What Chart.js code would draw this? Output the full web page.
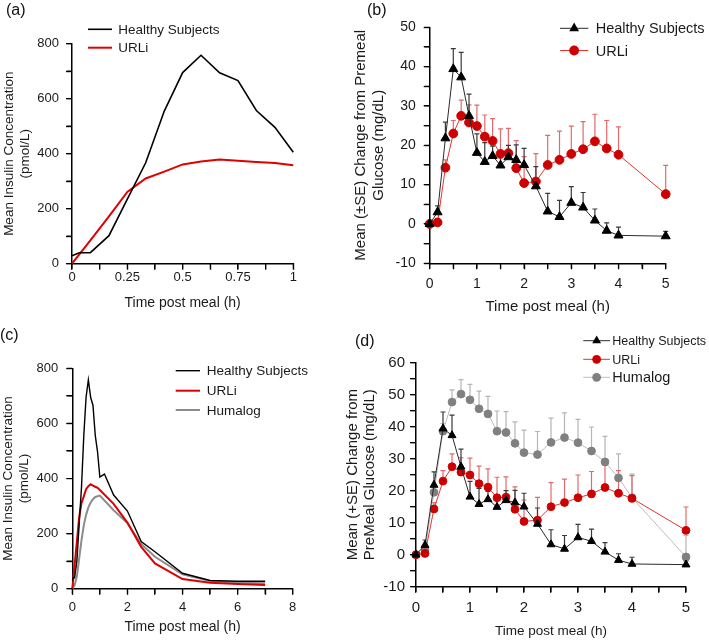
<!DOCTYPE html>
<html>
<head>
<meta charset="utf-8">
<script src="https://cdn.jsdelivr.net/npm/chart.js@4.4.0/dist/chart.umd.min.js"></script>
<style>
  body { margin: 0; background: #fff; }
  #wrap { position: relative; width: 709px; height: 641px; overflow: hidden; font-family: "Liberation Sans", Arial, sans-serif; }
  canvas { position: absolute; }
  .tag { position: absolute; font-size: 16px; line-height: 16px; color: #111; }
</style>
</head>
<body>
<div id="wrap">
  <canvas id="chartA" width="350" height="320" style="left:0;top:0"></canvas>
  <canvas id="chartB" width="364" height="320" style="left:345px;top:0"></canvas>
  <canvas id="chartC" width="350" height="321" style="left:0;top:320px"></canvas>
  <canvas id="chartD" width="369" height="321" style="left:340px;top:320px"></canvas>
  <div class="tag" style="left:6px;top:2px">(a)</div>
  <div class="tag" style="left:367px;top:2px">(b)</div>
  <div class="tag" style="left:0;top:327px">(c)</div>
  <div class="tag" style="left:355px;top:333px">(d)</div>
</div>
<script>
var FONT = '"Liberation Sans", Arial, sans-serif';

// (a) insulin, first hour
var tHealthyA = [0, 0.033, 0.083, 0.167, 0.25, 0.333, 0.417, 0.5, 0.583, 0.667, 0.75, 0.833, 0.917, 1];
var insHealthyA = [29, 40, 40, 102, 235, 367, 555, 695, 758, 694, 666, 557, 496, 405];
var tUrliA = [0, 0.083, 0.167, 0.25, 0.333, 0.417, 0.5, 0.583, 0.667, 0.75, 0.833, 0.917, 1];
var insUrliA = [0, 85, 172, 261, 310, 335, 361, 372, 379, 374, 370, 366, 358];

// (c) insulin, 0-7 h
var tHealthyC = [0, 0.033, 0.083, 0.167, 0.25, 0.333, 0.417, 0.5, 0.583, 0.667, 0.75, 0.833, 0.917, 1, 1.167, 1.5, 2, 2.5, 3, 4, 5, 6, 7];
var insHealthyC = [29, 40, 40, 102, 235, 367, 555, 695, 758, 694, 666, 557, 496, 405, 416, 340, 282, 171, 134, 56, 30, 27, 27];
var tUrliC = [0, 0.083, 0.167, 0.25, 0.333, 0.417, 0.5, 0.583, 0.667, 0.75, 0.833, 0.917, 1, 1.5, 2, 2.5, 3, 4, 5, 6, 7];
var insUrliC = [0, 85, 172, 261, 310, 335, 361, 372, 379, 374, 370, 366, 358, 308, 240, 152, 92, 35, 22, 17, 13];
var tHumalogC = [0, 0.083, 0.167, 0.25, 0.333, 0.417, 0.5, 0.583, 0.667, 0.75, 0.833, 1, 1.5, 2, 2.5, 3, 4, 5, 6, 7];
var insHumalogC = [0, 12, 45, 110, 175, 230, 268, 295, 313, 325, 333, 338, 285, 238, 162, 116, 52, 28, 22, 20];

// (b) and (d) glucose change, mean and SE
var tGlu = [0, 0.167, 0.333, 0.5, 0.667, 0.833, 1, 1.167, 1.333, 1.5, 1.667, 1.833, 2, 2.25, 2.5, 2.75, 3, 3.25, 3.5, 3.75, 4, 5];
var gluHealthy = [0, 3, 21.8, 39.4, 37.3, 27.5, 18.1, 15.8, 17.3, 14.9, 17.0, 16.3, 15.0, 9.6, 3.2, 1.8, 5.4, 4.2, 0.9, -1.7, -2.9, -3.1];
var seHealthy = [0, 1.6, 4.1, 5.2, 6.3, 5.5, 4.8, 4.9, 2.5, 3.1, 3.0, 3.8, 4.2, 5.0, 4.6, 4.2, 4.1, 3.8, 2.9, 2.0, 2.1, 1.2];
var gluUrli = [0, 0.4, 14.3, 23.0, 27.5, 25.8, 24.9, 22.2, 21.1, 17.8, 18.0, 14.2, 10.4, 10.8, 15.0, 16.3, 17.8, 19.0, 21.0, 19.2, 17.6, 7.6];
var seUrli = [0, 0, 2.0, 3.3, 4.0, 4.5, 5.3, 5.5, 5.7, 6.4, 6.3, 7.0, 6.7, 7.1, 7.5, 7.3, 7.1, 7.0, 6.9, 7.1, 7.1, 7.3];
var gluHumalog = [0, 1.5, 19.5, 38.6, 47.7, 50.2, 48.4, 45.6, 44.0, 38.6, 38.2, 34.8, 31.9, 31.3, 35.1, 36.6, 35.0, 32.4, 29.0, 24.0, 17.8, -0.7];
var seHumalog = [0, 0, 1.5, 2.4, 3.8, 4.5, 4.8, 5.5, 5.5, 6.3, 6.5, 6.7, 7.0, 7.2, 7.6, 7.7, 7.3, 7.5, 8.0, 7.5, 7.4, 6.7];

// tick labels
var xLabelsA = [0, 0.25, 0.5, 0.75, 1];
var yLabelsIns = [0, 200, 400, 600, 800];
var xLabelsC = [0, 2, 4, 6, 8];
var xLabelsGlu = [0, 1, 2, 3, 4, 5];
var yLabelsB = [-10, 0, 10, 20, 30, 40, 50];
var yLabelsD = [-10, 0, 10, 20, 30, 40, 50, 60];

function pts(xs, ys) {
  return xs.map(function(x, i) { return {x: x, y: ys[i]}; });
}

function drawMarker(ctx, style, x, y, r, color) {
  ctx.fillStyle = color;
  ctx.beginPath();
  if (style === 'triangle') {
    ctx.moveTo(x, y - r);
    ctx.lineTo(x + r * 0.866, y + r * 0.5);
    ctx.lineTo(x - r * 0.866, y + r * 0.5);
    ctx.closePath();
  } else {
    ctx.arc(x, y, r, 0, Math.PI * 2);
  }
  ctx.fill();
}

// legend drawn inside the plot like the original figure
var insetLegend = {
  id: 'insetLegend',
  afterDraw: function(chart, args, o) {
    if (!o || !o.rows) return;
    var ctx = chart.ctx;
    chart.data.datasets.forEach(function(ds, i) {
      var y = o.rows[i];
      ctx.save();
      ctx.strokeStyle = ds.borderColor;
      ctx.lineWidth = ds.borderWidth;
      ctx.beginPath();
      ctx.moveTo(o.x0, y);
      ctx.lineTo(o.x1, y);
      ctx.stroke();
      if (ds.pointRadius) drawMarker(ctx, ds.pointStyle, (o.x0 + o.x1) / 2, y, ds.pointRadius + 0.5, ds.pointBackgroundColor);
      ctx.fillStyle = '#1a1a1a';
      ctx.font = (o.sizes ? o.sizes[i] : o.size) + 'px ' + FONT;
      ctx.textBaseline = 'middle';
      ctx.fillText(ds.label, o.tx, y + 1);
      ctx.restore();
    });
  }
};

// outward tick marks at every scale tick
var tickMarks = {
  id: 'tickMarks',
  afterDraw: function(chart) {
    var ctx = chart.ctx, a = chart.chartArea, xs = chart.scales.x, ys = chart.scales.y;
    ctx.save();
    ctx.strokeStyle = '#000';
    ctx.lineWidth = 1.2;
    ctx.beginPath();
    xs.ticks.forEach(function(t) {
      var px = xs.getPixelForValue(t.value);
      ctx.moveTo(px, a.bottom);
      ctx.lineTo(px, a.bottom + 5.5);
    });
    ys.ticks.forEach(function(t) {
      var py = ys.getPixelForValue(t.value);
      ctx.moveTo(a.left, py);
      ctx.lineTo(a.left - 5.5, py);
    });
    ctx.stroke();
    ctx.restore();
  }
};

// upper SE bars
var errorBars = {
  id: 'errorBars',
  beforeDatasetsDraw: function(chart) {
    var ctx = chart.ctx, xs = chart.scales.x, ys = chart.scales.y;
    for (var i = chart.data.datasets.length - 1; i >= 0; i--) {
      var ds = chart.data.datasets[i];
      if (!ds.se) continue;
      ctx.save();
      ctx.strokeStyle = ds.errColor;
      ctx.lineWidth = 1.2;
      ds.data.forEach(function(p, j) {
        var e = ds.se[j];
        if (!e) return;
        var px = xs.getPixelForValue(p.x);
        var py = ys.getPixelForValue(p.y);
        var pt = ys.getPixelForValue(p.y + e);
        ctx.beginPath();
        ctx.moveTo(px, py);
        ctx.lineTo(px, pt);
        ctx.moveTo(px - 2.5, pt);
        ctx.lineTo(px + 2.5, pt);
        ctx.stroke();
      });
      ctx.restore();
    }
  }
};

function axis(o) {
  return {
    type: 'linear',
    min: o.min,
    max: o.max,
    ticks: {
      stepSize: o.step,
      autoSkip: false,
      maxRotation: 0,
      maxTicksLimit: 100,
      padding: o.pad,
      color: '#1a1a1a',
      font: {family: FONT, size: o.tickSize},
      callback: function(v) {
        for (var k = 0; k < o.labels.length; k++) {
          if (Math.abs(o.labels[k] - v) < 1e-6) return String(o.labels[k]);
        }
        return '';
      }
    },
    grid: {display: true, drawOnChartArea: false, drawTicks: true, color: '#000', tickColor: '#000',
      tickLength: 6, lineWidth: 1.2, tickWidth: 1.2},
    border: {display: true, color: '#000', width: 1.5},
    title: {
      display: true,
      text: o.title,
      color: '#1a1a1a',
      font: {family: FONT, size: o.titleSize, lineHeight: o.lh || 1.2},
      padding: o.titlePad
    },
    afterFit: o.fit
  };
}

function makeChart(id, datasets, sc, pad, legend) {
  return new Chart(document.getElementById(id), {
    type: 'line',
    data: {datasets: datasets},
    options: {
      responsive: false,
      animation: false,
      layout: {padding: pad},
      plugins: {legend: {display: false}, tooltip: {enabled: false}, insetLegend: legend},
      scales: sc
    },
    plugins: [errorBars, tickMarks, insetLegend]
  });
}

function lineSet(label, xs, ys, color, width) {
  return {label: label, data: pts(xs, ys), borderColor: color, borderWidth: width,
    pointRadius: 0, tension: 0, fill: false, clip: false};
}

function markSet(label, ys, se, line, fillColor, style, r, errColor) {
  return {label: label, data: pts(tGlu, ys), se: se, errColor: errColor,
    borderColor: line, borderWidth: 1, tension: 0, fill: false, clip: false,
    pointStyle: style, pointRadius: r, pointBackgroundColor: fillColor,
    pointBorderColor: fillColor, pointBorderWidth: 1};
}

// (a)
makeChart('chartA', [
  lineSet('Healthy Subjects', tHealthyA, insHealthyA, '#000', 1.6),
  lineSet('URLi', tUrliA, insUrliA, '#e00000', 2)
], {
  x: axis({min: 0, max: 1, step: 0.125, labels: xLabelsA, pad: 0, tickSize: 13,
    title: 'Time post meal (h)', titleSize: 14, titlePad: {top: 0, bottom: 8},
    fit: function(s) { s.height = 56.3; }}),
  y: axis({min: 0, max: 800, step: 100, labels: yLabelsIns, pad: 7, tickSize: 13,
    title: ['Mean Insulin Concentration', '(pmol/L)'], titleSize: 13.5, titlePad: {top: 1, bottom: 0},
    fit: function(s) { s.width = 72; }})
}, {top: 43.7, right: 56.7, bottom: 0, left: 0},
  {rows: [29.3, 47.7], x0: 88, x1: 112, tx: 118.3, size: 13.5});

// (b)
makeChart('chartB', [
  markSet('Healthy Subjects', gluHealthy, seHealthy, '#2a2a2a', '#000', 'triangle', 5.2, '#3a3a3a'),
  markSet('URLi', gluUrli, seUrli, '#e3342f', '#cc0000', 'circle', 4.4, '#e26a6a')
], {
  x: axis({min: 0, max: 5, step: 0.5, labels: xLabelsGlu, pad: 6, tickSize: 14,
    title: 'Time post meal (h)', titleSize: 15, titlePad: {top: 0, bottom: 4},
    fit: function(s) { s.height = 56.7; }}),
  y: axis({min: -10, max: 50, step: 5, labels: yLabelsB, pad: 8, tickSize: 14,
    title: ['Mean (\u00b1SE) Change from Premeal', 'Glucose (mg/dL)'], titleSize: 15, titlePad: {top: 7, bottom: 0},
    fit: function(s) { s.width = 84.7; }})
}, {top: 27.3, right: 43.3, bottom: 0, left: 0},
  {rows: [28.3, 50.5], x0: 215, x1: 243.3, tx: 250.7, size: 14.5});

// (c)
makeChart('chartC', [
  lineSet('Healthy Subjects', tHealthyC, insHealthyC, '#000', 1.4),
  lineSet('URLi', tUrliC, insUrliC, '#dd0000', 2),
  lineSet('Humalog', tHumalogC, insHumalogC, '#8c8c8c', 2)
], {
  x: axis({min: 0, max: 8, step: 1, labels: xLabelsC, pad: 5, tickSize: 13,
    title: 'Time post meal (h)', titleSize: 14, titlePad: {top: 0, bottom: 5},
    fit: function(s) { s.height = 52.3; }}),
  y: axis({min: 0, max: 800, step: 100, labels: yLabelsIns, pad: 8, tickSize: 13,
    title: ['Mean Insulin Concentration', '(pmol/L)'], titleSize: 13.5, titlePad: {top: 0, bottom: 0},
    fit: function(s) { s.width = 72.3; }})
}, {top: 48.3, right: 57.3, bottom: 0, left: 0},
  {rows: [50.7, 70.7, 90], x0: 175.7, x1: 200, tx: 206.7, size: 13.5});

// (d)
makeChart('chartD', [
  markSet('Healthy Subjects', gluHealthy, seHealthy, '#2a2a2a', '#000', 'triangle', 4.6, '#3a3a3a'),
  markSet('URLi', gluUrli, seUrli, '#e3342f', '#cc0000', 'circle', 3.9, '#e26a6a'),
  markSet('Humalog', gluHumalog, seHumalog, '#bdbdbd', '#808080', 'circle', 3.9, '#b5b5b5')
], {
  x: axis({min: 0, max: 5, step: 0.5, labels: xLabelsGlu, pad: 6, tickSize: 15,
    title: 'Time post meal (h)', titleSize: 13.5, titlePad: {top: 0, bottom: 1.5},
    fit: function(s) { s.height = 54.3; }}),
  y: axis({min: -10, max: 60, step: 5, labels: yLabelsD, pad: 5, tickSize: 15,
    title: ['Mean (+SE) Change from', 'PreMeal Glucose (mg/dL)'], titleSize: 15, lh: 1.1, titlePad: {top: 5, bottom: 0},
    fit: function(s) { s.width = 76; }})
}, {top: 42.7, right: 23, bottom: 0, left: 0},
  {rows: [20.7, 39.3, 57.3], x0: 243.3, x1: 270, tx: 272.3, sizes: [12.5, 12.5, 14.5]});
</script>
</body>
</html>
